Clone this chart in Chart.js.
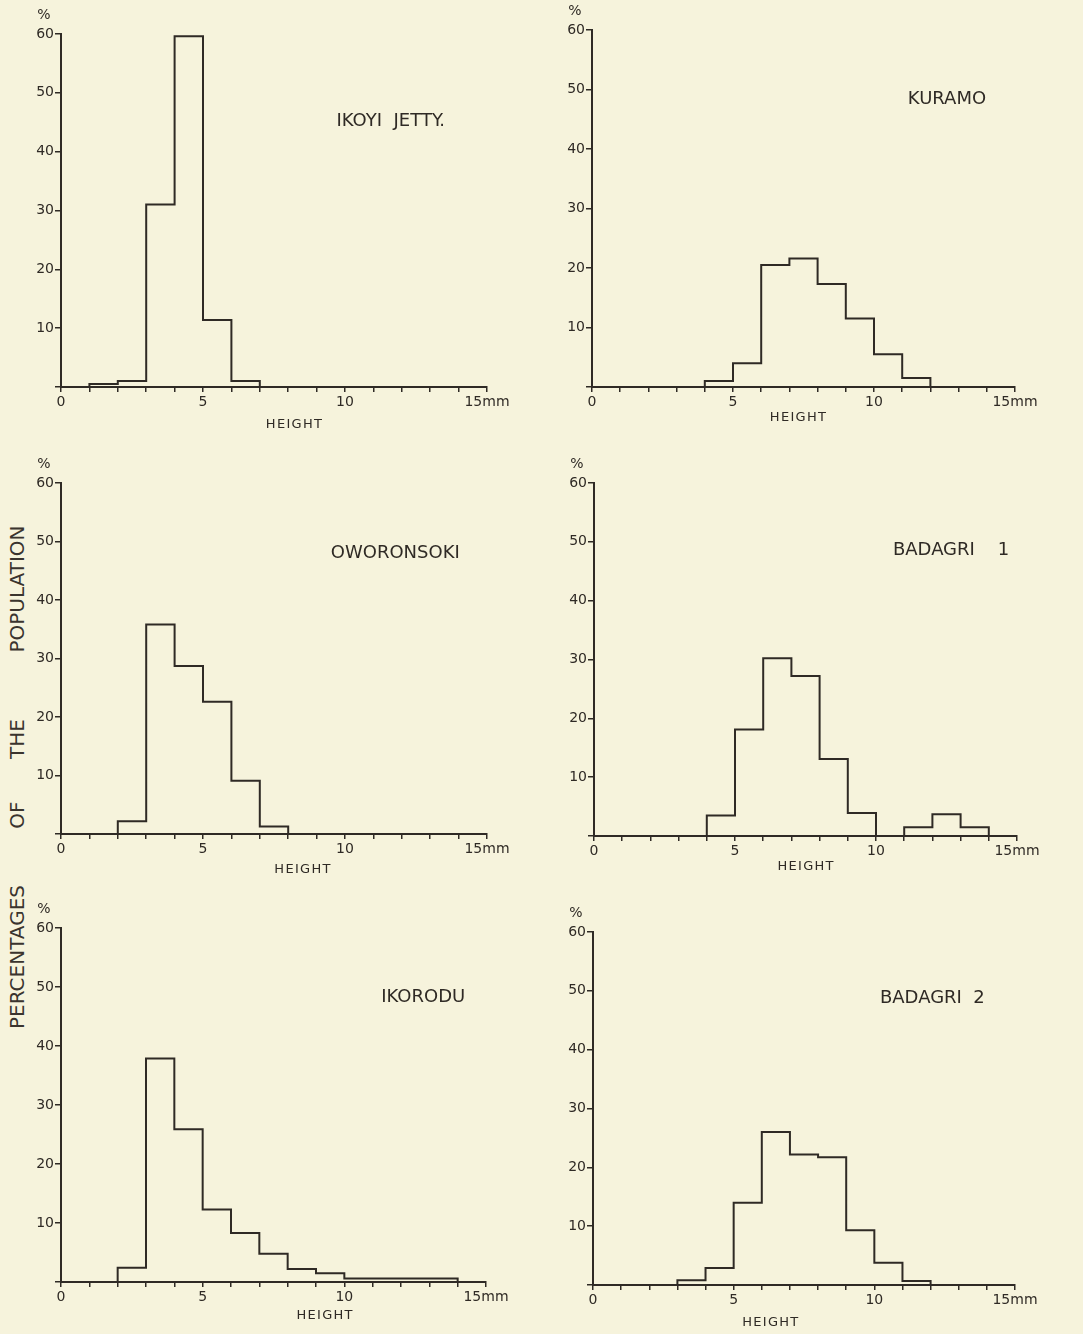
<!DOCTYPE html>
<html>
<head>
<meta charset="utf-8">
<script src="https://cdn.jsdelivr.net/npm/chart.js@4.4.1/dist/chart.umd.min.js"></script>
<style>
html,body{margin:0;padding:0;background:#f6f3dc;}
#page{position:relative;width:1083px;height:1334px;overflow:hidden;background:#f6f3dc;}
canvas{position:absolute;}
.vlab{position:absolute;left:17px;font-family:"DejaVu Sans",sans-serif;font-size:20px;color:#3a342e;
  transform:translate(-50%,-50%) rotate(-90deg);white-space:nowrap;}
</style>
</head>
<body>
<div id="page">
  <div class="vlab" style="top:589px">POPULATION</div>
  <div class="vlab" style="top:739px">THE</div>
  <div class="vlab" style="top:815px">OF</div>
  <div class="vlab" style="top:957px">PERCENTAGES</div>
</div>
<script>
// ---------- DATA ----------
// height classes (mm), one bin per mm starting at 0
const binStarts = [0,1,2,3,4,5,6,7,8,9,10,11,12,13,14];
const xTickLabels = {0:"0",5:"5",10:"10",15:"15mm"};
const yTicks = [10,20,30,40,50,60];

const ikoyiJetty = [0,0.5,1,31,59.6,11.4,1,0,0,0,0,0,0,0,0];
const kuramo     = [0,0,0,0,1,4,20.5,21.6,17.3,11.5,5.5,1.5,0,0,0];
const oworonsoki = [0,0,2.2,35.8,28.7,22.6,9.1,1.3,0,0,0,0,0,0,0];
const badagri1   = [0,0,0,0,3.5,18.1,30.2,27.2,13.1,3.9,0,1.5,3.7,1.5,0];
const ikorodu    = [0,0,2.4,37.9,25.9,12.3,8.3,4.8,2.2,1.5,0.6,0.6,0.6,0.6,0];
const badagri2   = [0,0,0,0.8,2.9,14.0,26.0,22.2,21.7,9.3,3.8,0.7,0,0,0];

const INK = "#2f2a25";
const FONT = "DejaVu Sans";

// ---------- PANELS ----------
// box = pixel position of the axes on the page
const panels = [
  {id:"p1", name:"IKOYI  JETTY.", vals:ikoyiJetty, box:{l:61,r:487,t:34,b:387},  tx:9.7,  ty:45.2, hx:8.2, hy:38},
  {id:"p2", name:"KURAMO",        vals:kuramo,     box:{l:592,r:1015,t:30,b:387}, tx:11.2, ty:48.4, hx:7.3, hy:31},
  {id:"p3", name:"OWORONSOKI",    vals:oworonsoki, box:{l:61,r:487,t:483,b:834}, tx:9.5,  ty:48,   hx:8.5, hy:36},
  {id:"p4", name:"BADAGRI    1",  vals:badagri1,   box:{l:594,r:1017,t:483,b:836},tx:10.6, ty:48.6, hx:7.5, hy:31},
  {id:"p5", name:"IKORODU",       vals:ikorodu,    box:{l:61,r:486,t:928,b:1282},tx:11.3, ty:48.2, hx:9.3, hy:34},
  {id:"p6", name:"BADAGRI  2",    vals:badagri2,   box:{l:593,r:1015,t:932,b:1285},tx:10.2, ty:48.7, hx:6.3, hy:38}
];

const PAD_L = 45, PAD_T = 30, PAD_R = 60, PAD_B = 50;

// ---------- TEXT PLUGIN ----------
const panelText = {
  id:"panelText",
  afterDraw(chart, args, o){
    const ctx = chart.ctx, x = chart.scales.x, y = chart.scales.y, a = chart.chartArea;
    ctx.save();
    ctx.fillStyle = INK;
    ctx.textBaseline = "middle";
    ctx.textAlign = "left";
    ctx.font = "18px '"+FONT+"'";
    ctx.fillText(o.name, x.getPixelForValue(o.tx), y.getPixelForValue(o.ty));
    ctx.textAlign = "center";
    ctx.font = "14px '"+FONT+"'";
    ctx.fillText("%", a.left-17, a.top-19);
    ctx.font = "13px '"+FONT+"'";
    ctx.fillText("H E I G H T".replace(/ /g,"\u200A"), x.getPixelForValue(o.hx), a.bottom+o.hy);
    ctx.restore();
  }
};

function makeChart(p){
  const cv = document.createElement("canvas");
  const w = p.box.r - p.box.l + PAD_L + PAD_R;
  const h = p.box.b - p.box.t + PAD_T + PAD_B;
  cv.width = w; cv.height = h;
  cv.style.left = (p.box.l - PAD_L) + "px";
  cv.style.top = (p.box.t - PAD_T) + "px";
  cv.style.width = w + "px"; cv.style.height = h + "px";
  document.getElementById("page").appendChild(cv);

  const pts = binStarts.map((b,i)=>({x:b, y:p.vals[i]}));
  pts.push({x:binStarts[binStarts.length-1]+1, y:0});

  new Chart(cv, {
    type:"line",
    data:{datasets:[{
      data:pts,
      stepped:"before",
      borderColor:INK,
      borderWidth:2,
      pointRadius:0,
      fill:false,
      tension:0
    }]},
    options:{
      responsive:false,
      animation:false,
      devicePixelRatio:1,
      layout:{padding:{left:0,top:PAD_T,right:PAD_R,bottom:0}},
      plugins:{
        legend:{display:false},
        tooltip:{enabled:false},
        panelText:{name:p.name, tx:p.tx, ty:p.ty, hx:p.hx, hy:p.hy}
      },
      scales:{
        x:{
          type:"linear", min:0, max:15,
          afterFit(s){ s.height = PAD_B; },
          border:{display:true, color:INK, width:2},
          grid:{display:true, drawOnChartArea:false, drawTicks:true, tickLength:5, color:INK, lineWidth:1.5},
          ticks:{
            stepSize:1, autoSkip:false, maxRotation:0, color:INK, padding:2,
            font:{family:FONT, size:14},
            callback(v){ return xTickLabels[v] !== undefined ? xTickLabels[v] : ""; }
          }
        },
        y:{
          min:0, max:60,
          afterFit(s){ s.width = PAD_L; },
          border:{display:true, color:INK, width:2},
          grid:{display:true, drawOnChartArea:false, drawTicks:true, tickLength:6, color:INK, lineWidth:1.5},
          ticks:{
            stepSize:10, autoSkip:false, color:INK, padding:1,
            font:{family:FONT, size:14},
            callback(v){ return yTicks.includes(v) ? String(v) : ""; }
          }
        }
      }
    },
    plugins:[panelText]
  });
}

panels.forEach(makeChart);
</script>
</body>
</html>
